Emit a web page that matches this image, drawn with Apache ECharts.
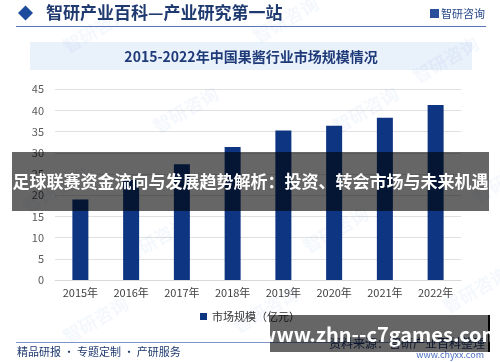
<!DOCTYPE html>
<html>
<head>
<meta charset="utf-8">
<script src="https://cdn.jsdelivr.net/npm/echarts@6/dist/echarts.min.js"></script>
<style>
html,body{margin:0;padding:0;background:#fff;}
#c{width:500px;height:362px;}
</style>
</head>
<body>
<div id="c"></div>
<script>
var categories = ['2015年','2016年','2017年','2018年','2019年','2020年','2021年','2022年'];
var marketSize = [19.0, 23.6, 27.3, 31.4, 35.3, 36.4, 38.3, 41.3];
var seriesName = '市场规模（亿元）';
var chartTitle = '2015-2022年中国果酱行业市场规模情况';
var headerText = '智研产业百科—产业研究第一站';
var bannerText = '足球联赛资金流向与发展趋势解析：投资、转会市场与未来机遇';
var urlText = 'www.zhn--c7games.com';

var F = '"Noto Sans CJK SC", "Noto Sans", sans-serif';
var chart = echarts.init(document.getElementById('c'), null, {renderer:'canvas'});

var wm = [];
[[60,40],[250,30],[410,70],[20,200],[150,120],[330,120],[470,190],[120,250],[300,240],[60,330],[230,320],[440,300]].forEach(function(p){
  wm.push({type:'text', x:p[0], y:p[1], rotation:Math.PI/6, z:1, silent:true,
    style:{text:'智研咨询', fill:'rgba(40,100,190,0.05)', font:'bold 18px '+F}});
});

chart.setOption({
  animation:false,
  backgroundColor:'#fff',
  grid:{left:55, right:39, top:89.3, bottom:82, containLabel:false},
  legend:{
    data:[seriesName], top:306, left:'center', itemWidth:7, itemHeight:7, icon:'rect', itemGap:4,
    textStyle:{fontSize:11, color:'#333', fontFamily:F}
  },
  xAxis:{
    type:'category', data:categories,
    axisLine:{lineStyle:{color:'#d9d9d9'}}, axisTick:{show:false},
    axisLabel:{color:'#404040', fontSize:11, fontFamily:F, margin:7}
  },
  yAxis:{
    type:'value', min:0, max:45, interval:5,
    axisLine:{show:false}, axisTick:{show:false},
    splitLine:{lineStyle:{color:'#e0e0e0'}},
    axisLabel:{color:'#595959', fontSize:11, fontFamily:F, margin:11}
  },
  series:[{
    name:seriesName, type:'bar', data:marketSize, barWidth:16,
    itemStyle:{color:'#0e3582'}
  }],
  graphic:{elements: wm.concat([
    {type:'polygon', z:10, shape:{points:[[18,13],[25.5,5.5],[33,13],[25.5,20.5]]}, style:{fill:'#1c4a9c'}},
    {type:'text', z:10, x:46, y:13, style:{text:headerText, fill:'#1f3a70', font:'bold 17px '+F, textVerticalAlign:'middle'}},
    {type:'rect', z:10, shape:{x:430,y:9,width:9,height:9}, style:{fill:'#2a4f9a'}},
    {type:'text', z:10, x:441, y:14, style:{text:'智研咨询', fill:'#2a4a8a', font:'11px '+F, textVerticalAlign:'middle'}},
    {type:'line', z:10, shape:{x1:16,y1:26.5,x2:486,y2:26.5}, style:{stroke:'#5a78b8', lineWidth:1}},
    {type:'rect', z:0, shape:{x:30,y:42,width:442,height:28}, style:{fill:'#e9f1fb'}},
    {type:'text', z:10, x:251, y:57, style:{text:chartTitle, fill:'#1f3a78', font:'bold 14px '+F, textAlign:'center', textVerticalAlign:'middle'}},
    {type:'line', z:10, shape:{x1:16,y1:342.5,x2:486,y2:342.5}, style:{stroke:'#7d95c8', lineWidth:1}},
    {type:'text', z:10, x:17, y:352, style:{text:'精品研报 · 专题定制 · 产研服务', fill:'#1f3a70', font:'11px '+F, textVerticalAlign:'middle'}},
    {type:'text', z:10, x:485, y:343, style:{text:'资料来源：智研产业百科整理', fill:'#1f3a70', font:'12px '+F, textAlign:'right', textVerticalAlign:'middle'}},
    {type:'text', z:10, x:484, y:355, style:{text:'www.chyxx.com', fill:'#4a6fc0', font:'9px '+F, textAlign:'right', textVerticalAlign:'middle'}},
    {type:'rect', z:100, shape:{x:12,y:152,width:477,height:59}, style:{fill:'rgba(0,0,0,0.6)'}},
    {type:'text', z:101, x:250.5, y:182, style:{text:bannerText, fill:'#fff', font:'bold 17px '+F, textAlign:'center', textVerticalAlign:'middle'}},
    {type:'rect', z:100, shape:{x:270,y:315,width:218,height:37}, style:{fill:'rgba(0,0,0,0.6)'}},
    {type:'rect', z:100, shape:{x:488,y:315,width:2,height:37}, style:{fill:'#000'}},
    {type:'text', z:101, x:380, y:334, style:{text:urlText, fill:'#fff', font:'bold 20px '+F, textAlign:'center', textVerticalAlign:'middle'}}
  ])}
});
</script>
</body>
</html>
